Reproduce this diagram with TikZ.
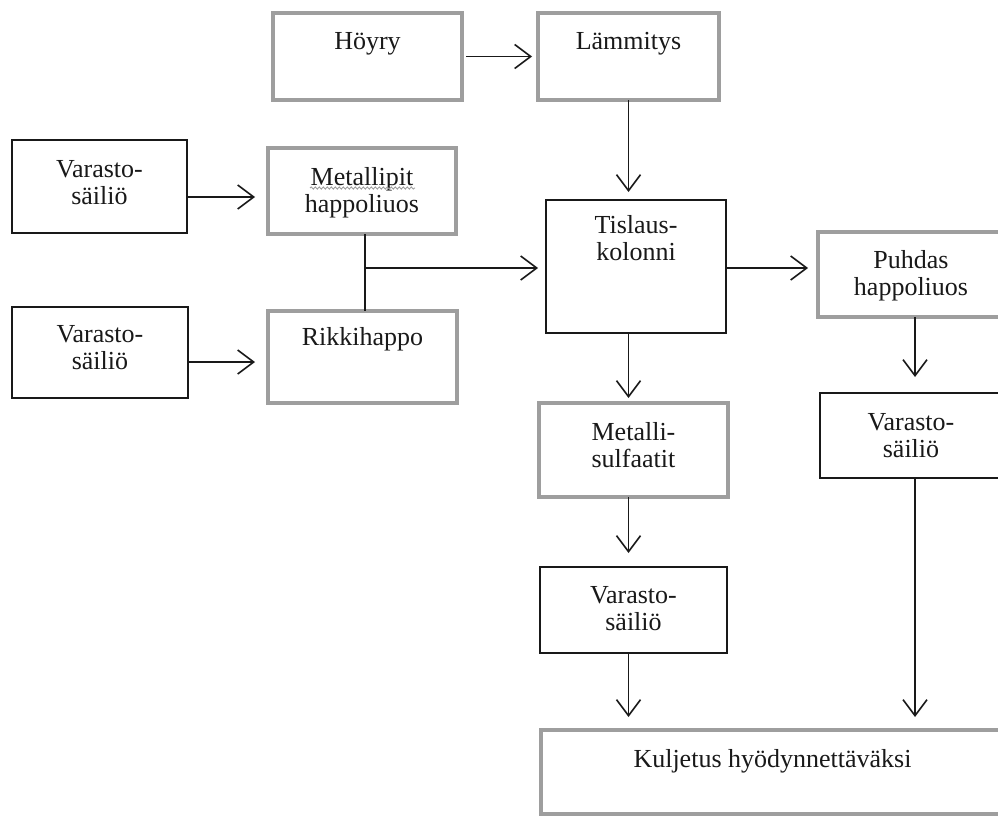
\documentclass[tikz,border=0pt]{standalone}
\usepackage{fontspec}
\setmainfont{Liberation Serif}
\usetikzlibrary{arrows.meta,decorations.pathmorphing}
\definecolor{boxgray}{RGB}{158,158,158}
\definecolor{inkc}{RGB}{25,25,25}
\newcommand{\lbl}[1]{\parbox[t]{320pt}{\centering\fontsize{26}{27}\selectfont #1}}
\tikzset{
  gbox/.style={draw=boxgray, line width=4pt, inner sep=0pt, outer sep=0pt, fill=white},
  bbox/.style={draw=inkc, line width=1.6pt, inner sep=0pt, outer sep=0pt, fill=white},
  txt/.style={inner sep=0pt, anchor=base, text=inkc},
  arr/.style={draw=inkc, line width=1.6pt, -{Straight Barb[length=16pt,width=24pt,line width=1.6pt]}},
  ln/.style={draw=inkc, line width=1.6pt}
}
\begin{document}
\begin{tikzpicture}[x=1pt,y=-1pt]
\useasboundingbox (0,0) rectangle (998,816);
\fill[white] (0,0) rectangle (998,816);

% boxes
\node[gbox, minimum width=189pt, minimum height=87pt] (hoyry) at (367.5,56.5) {};
\node[gbox, minimum width=181pt, minimum height=87pt] (lam) at (628.5,56.5) {};
\node[bbox, minimum width=175pt, minimum height=93pt] (v1) at (99.5,186.5) {};
\node[gbox, minimum width=188pt, minimum height=86pt] (mp) at (362,191) {};
\node[bbox, minimum width=176pt, minimum height=91pt] (v2) at (100,352.5) {};
\node[gbox, minimum width=189pt, minimum height=92pt] (rik) at (362.5,357) {};
\node[bbox, minimum width=180pt, minimum height=133pt] (tis) at (636,266.5) {};
\node[gbox, minimum width=186pt, minimum height=85pt] (puh) at (911,274.5) {};
\node[bbox, minimum width=182pt, minimum height=85pt] (v3) at (911,435.5) {};
\node[gbox, minimum width=189pt, minimum height=94pt] (ms) at (633.5,450) {};
\node[bbox, minimum width=187pt, minimum height=86pt] (v4) at (633.5,610) {};
\node[gbox, minimum width=463pt, minimum height=84pt] (kul) at (772.5,772) {};

% texts
\node[txt] (thoyry) at ([yshift=-37pt]hoyry.north) {\lbl{Höyry}};
\node[txt] (tlam) at ([yshift=-37pt]lam.north) {\lbl{Lämmitys}};
\node[txt] (tv1) at ([yshift=-37pt]v1.north) {\lbl{Varasto-\\säiliö}};
\node[txt] (tmp) at ([yshift=-37pt]mp.north) {\lbl{Metallipit\\happoliuos}};
\node[txt] (tv2) at ([yshift=-35pt]v2.north) {\lbl{Varasto-\\säiliö}};
\node[txt] (trik) at ([yshift=-34pt]rik.north) {\lbl{Rikkihappo}};
\node[txt] (ttis) at ([yshift=-33pt]tis.north) {\lbl{Tislaus-\\kolonni}};
\node[txt] (tpuh) at ([yshift=-36pt]puh.north) {\lbl{Puhdas\\happoliuos}};
\node[txt] (tv3) at ([yshift=-37pt]v3.north) {\lbl{Varasto-\\säiliö}};
\node[txt] (tms) at ([yshift=-37pt]ms.north) {\lbl{Metalli-\\sulfaatit}};
\node[txt] (tv4) at ([yshift=-36pt]v4.north) {\lbl{Varasto-\\säiliö}};
\node[txt] (tkul) at ([yshift=-37pt]kul.north) {\lbl{Kuljetus hyödynnettäväksi}};

% spell-check squiggle under Metallipit
\draw[boxgray, line width=0.9pt, decorate, decoration={snake, amplitude=1.1pt, segment length=4pt}]
  ([xshift=-52pt,yshift=-3pt]tmp.base) -- ([xshift=53pt,yshift=-3pt]tmp.base);

% connectors
\draw[arr, shorten <=4pt, shorten >=6pt] (hoyry.east) -- (lam.west);
\draw[arr, shorten >=13pt] ([yshift=-10.5pt]v1.east) -- ([yshift=-10.5pt]v1.east -| mp.west);
\draw[arr, shorten >=13pt] ([yshift=-9.5pt]v2.east) -- ([yshift=-9.5pt]v2.east -| rik.west);
\draw[ln] ([xshift=3pt]mp.south) -- ([xshift=2.5pt]rik.north);
\coordinate (j) at ([xshift=3pt,yshift=-34pt]mp.south);
\draw[arr, shorten >=8pt] (j) -- (j -| tis.west);
\draw[arr, shorten >=8pt] (lam.south) -- (lam.south |- tis.north);
\draw[arr, shorten >=10pt] ([yshift=-1.5pt]tis.east) -- ([yshift=-1.5pt]tis.east -| puh.west);
\draw[arr, shorten >=5pt] (tis.south -| lam.south) -- (lam.south |- ms.north);
\draw[arr, shorten >=16pt] ([xshift=4pt]v3.north |- puh.south) -- ([xshift=4pt]v3.north);
\draw[arr, shorten >=14pt] (ms.south -| lam.south) -- (lam.south |- v4.north);
\draw[arr, shorten >=13pt] (v4.south -| lam.south) -- (lam.south |- kul.north);
\draw[arr, shorten >=13pt] ([xshift=4pt]v3.south) -- ([xshift=4pt]v3.south |- kul.north);
\end{tikzpicture}
\end{document}
